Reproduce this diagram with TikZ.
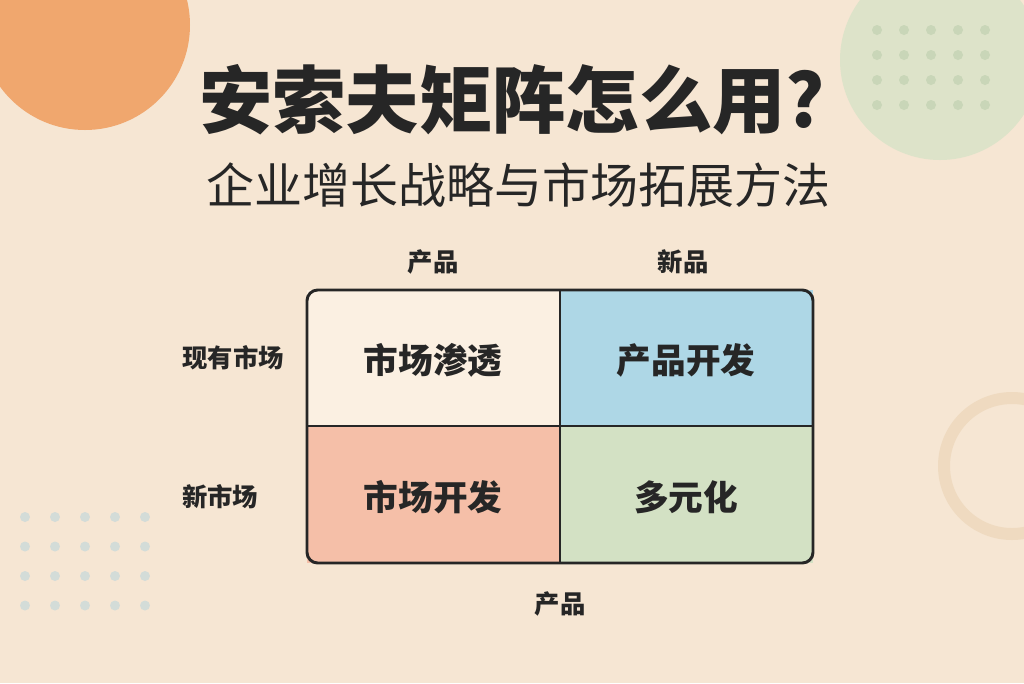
\documentclass[tikz,border=0pt]{standalone}
\usepackage{fontspec}
\setmainfont{Noto Sans CJK SC}
\usetikzlibrary{positioning}
\definecolor{bgcol}{HTML}{F6E6D3}
\definecolor{blobor}{HTML}{F0A76E}
\definecolor{blobgr}{HTML}{DDE3C9}
\definecolor{dotgr}{HTML}{C9D6B8}
\definecolor{dotbl}{HTML}{D3DCD8}
\definecolor{ringcol}{HTML}{EFDAC0}
\definecolor{inkcol}{HTML}{262626}
\definecolor{cellA}{HTML}{FBF0E2}
\definecolor{cellB}{HTML}{AED7E6}
\definecolor{cellC}{HTML}{F5BFA8}
\definecolor{cellD}{HTML}{D3E1C4}
\tikzset{
	% axis labels
	axis/.style={font=\bfseries\fontsize{19}{22}\selectfont, text=inkcol},
	% text inside the cells
	celltext/.style={font=\bfseries\fontsize{26}{30}\selectfont, text=inkcol}
}
\begin{document}
\begin{tikzpicture}[x=0.75pt,y=-0.75pt]
	\fill[bgcol] (0,0) rectangle (1024,683);
	\useasboundingbox (0,0) rectangle (1024,683);
	
	% decorations
	\fill[blobor] (85,25) circle (105);
	\fill[blobgr] (940,60) circle (100);
	\foreach \i in {0,...,4}
		\foreach \j in {0,...,3}
			\fill[dotgr] (877+27*\i,30+25*\j) circle (5);
	\foreach \i in {0,...,4}
		\foreach \j in {0,...,3}
			\fill[dotbl] (25+30*\i,517+29.5*\j) circle (5);
	\draw[ringcol, line width=9pt] (1012,466) circle (68);
	
	% titles
	\node[font=\bfseries\fontsize{55}{60}\selectfont, text=inkcol] (title) at (512,100) {安索夫矩阵怎么用?};
	\node[font=\fontsize{36}{40}\selectfont, text=inkcol] (subtitle) at (518,185) {企业增长战略与市场拓展方法};
	
	% matrix cells
	\fill[cellA] (307,290) rectangle (560,426);
	\fill[cellB] (560,290) rectangle (813,426);
	\fill[cellC] (307,426) rectangle (560,563);
	\fill[cellD] (560,426) rectangle (813,563);
	\draw[inkcol, line width=2.2pt, rounded corners=8pt] (307,290) rectangle (813,563);
	\draw[inkcol, line width=2pt] (560,290) -- (560,563);
	\draw[inkcol, line width=2pt] (307,426) -- (813,426);
	
	\node[celltext] (penetr) at (433,360) {市场渗透};
	\node[celltext] (proddev) at (686,360) {产品开发};
	\node[celltext] (mktdev) at (433,497) {市场开发};
	\node[celltext] (divers) at (686,497) {多元化};
	
	% axis labels
	\node[axis] (colA) at (433,262) {产品};
	\node[axis] (colB) at (683,262) {新品};
	\node[axis] (rowA) at (233,358) {现有市场};
	\node[axis] (rowB) at (220,497) {新市场};
	\node[axis] (bottom) at (560,604) {产品};
\end{tikzpicture}
\end{document}
